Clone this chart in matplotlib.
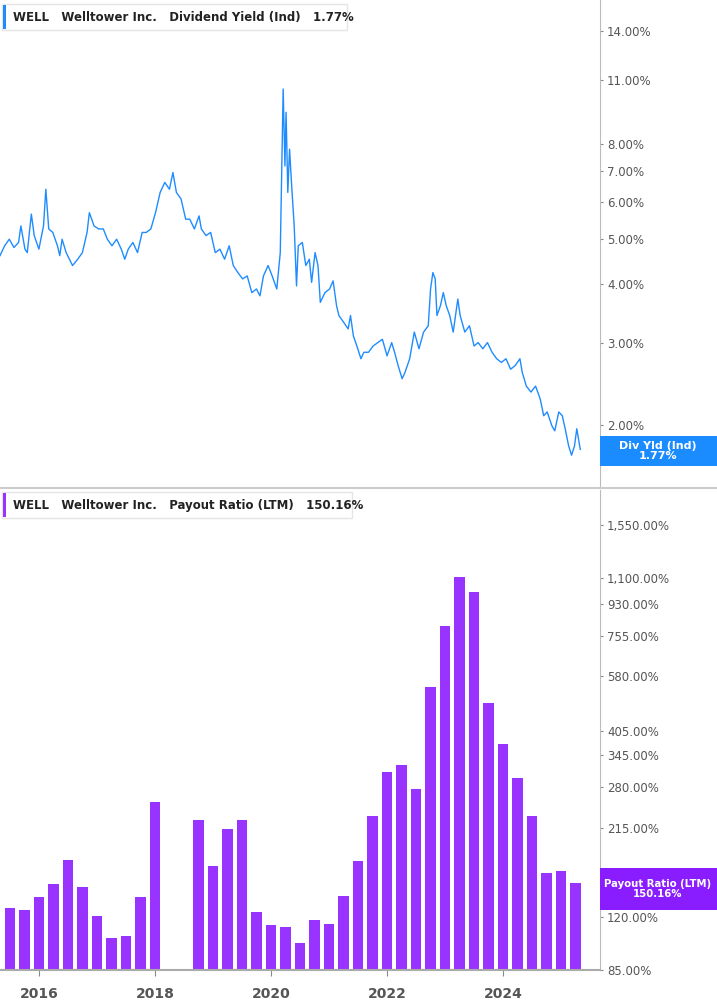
import matplotlib
matplotlib.use("Agg")
import matplotlib.pyplot as plt
from matplotlib.ticker import FixedLocator, FuncFormatter, NullLocator
from matplotlib.patches import Rectangle

yield_dates = [2015.33,2015.41,2015.49,2015.57,2015.65,2015.69,2015.76,2015.80,2015.87,2015.92,2016.00,2016.08,2016.12,2016.17,2016.24,2016.32,2016.36,2016.40,2016.47,2016.58,2016.67,2016.75,2016.83,2016.87,2016.95,2017.03,2017.11,2017.18,2017.26,2017.34,2017.42,2017.48,2017.54,2017.62,2017.70,2017.78,2017.85,2017.93,2018.01,2018.09,2018.17,2018.25,2018.31,2018.37,2018.45,2018.53,2018.60,2018.68,2018.76,2018.80,2018.88,2018.96,2019.04,2019.12,2019.20,2019.28,2019.35,2019.43,2019.51,2019.59,2019.67,2019.75,2019.81,2019.87,2019.95,2020.02,2020.10,2020.16,2020.21,2020.24,2020.26,2020.29,2020.32,2020.36,2020.40,2020.44,2020.47,2020.54,2020.60,2020.66,2020.70,2020.76,2020.81,2020.85,2020.93,2021.01,2021.07,2021.13,2021.17,2021.25,2021.33,2021.37,2021.42,2021.48,2021.55,2021.60,2021.68,2021.76,2021.84,2021.92,2022.00,2022.08,2022.13,2022.19,2022.26,2022.31,2022.39,2022.47,2022.55,2022.63,2022.71,2022.75,2022.79,2022.83,2022.86,2022.92,2022.97,2023.02,2023.08,2023.14,2023.22,2023.26,2023.34,2023.42,2023.50,2023.57,2023.65,2023.73,2023.81,2023.89,2023.97,2024.05,2024.13,2024.21,2024.29,2024.33,2024.40,2024.48,2024.56,2024.64,2024.70,2024.76,2024.84,2024.89,2024.96,2025.02,2025.07,2025.13,2025.18,2025.23,2025.27,2025.33]
yield_values = [4.61,4.84,5.00,4.80,4.92,5.34,4.76,4.68,5.66,5.09,4.76,5.34,6.40,5.26,5.17,4.84,4.61,5.00,4.68,4.39,4.53,4.68,5.17,5.70,5.34,5.26,5.26,5.00,4.84,5.00,4.76,4.53,4.76,4.92,4.68,5.17,5.17,5.26,5.70,6.30,6.62,6.40,6.95,6.30,6.10,5.52,5.52,5.26,5.61,5.26,5.09,5.17,4.68,4.76,4.53,4.84,4.39,4.24,4.11,4.17,3.84,3.91,3.78,4.17,4.39,4.17,3.91,4.68,10.5,7.18,9.36,6.30,7.8,6.40,5.34,3.97,4.84,4.92,4.39,4.53,4.04,4.68,4.39,3.66,3.84,3.91,4.07,3.60,3.43,3.32,3.21,3.43,3.10,2.95,2.77,2.86,2.86,2.95,3.00,3.05,2.81,3.00,2.86,2.68,2.51,2.59,2.77,3.16,2.91,3.16,3.26,3.91,4.24,4.11,3.43,3.60,3.84,3.60,3.43,3.16,3.72,3.43,3.16,3.26,2.95,3.00,2.91,3.00,2.86,2.77,2.72,2.77,2.63,2.68,2.77,2.59,2.42,2.35,2.42,2.27,2.09,2.13,1.99,1.94,2.13,2.09,1.96,1.80,1.72,1.80,1.96,1.77]

payout_dates = [2015.5,2015.75,2016.0,2016.25,2016.5,2016.75,2017.0,2017.25,2017.5,2017.75,2018.0,
                2018.75,2019.0,2019.25,2019.5,2019.75,2020.0,2020.25,2020.5,2020.75,2021.0,2021.25,2021.5,2021.75,
                2022.0,2022.25,2022.5,2022.75,2023.0,2023.25,2023.5,2023.75,2024.0,2024.25,2024.5,2024.75,2025.0,2025.25]
payout_values = [127.6,125.9,137,148.5,174.8,146,120.8,104.9,106.3,136.4,254,
                 226.7,168,213.8,226,124.3,113.9,112.2,101.1,117.5,114.7,138,173.6,232.7,
                 309,323.6,276.8,540,801.6,1105,1004,484.6,371,297,232.7,160.5,162.6,150.16]

yield_ticks = [2, 3, 4, 5, 6, 7, 8, 11, 14]
payout_ticks = [85, 120, 215, 280, 345, 405, 580, 755, 930, 1100, 1550]
year_ticks = [2016, 2018, 2020, 2022, 2024]

W, H = 717, 1005
fig = plt.figure(figsize=(W/100, H/100), dpi=100)
fig.patch.set_facecolor("white")
right = 600/W
ax1 = fig.add_axes([0, 1-487/H, right, 487/H])
ax2 = fig.add_axes([0, 1-970/H, right, (970-490)/H])

line_c = "#1e8cff"
bar_c = "#9933ff"
lab_c = "#555555"

fmt = FuncFormatter(lambda v, p: f"{v:,.2f}%")
for ax in (ax1, ax2):
    ax.set_yscale("log")
    ax.yaxis.tick_right()
    ax.yaxis.set_major_formatter(fmt)
    ax.yaxis.set_minor_locator(NullLocator())
    ax.tick_params(axis="y", which="major", length=2, color="#888888", labelcolor=lab_c, labelsize=8.5, pad=3)
    ax.set_xlim(2015.33, 2025.67)
    for s in ("top", "left", "bottom"):
        ax.spines[s].set_visible(False)
    ax.spines["right"].set_color("#bbbbbb")
    ax.set_facecolor("white")

ax1.plot(yield_dates, yield_values, color=line_c, lw=1.0)
ax1.set_ylim(1.47, 16.3)
ax1.yaxis.set_major_locator(FixedLocator(yield_ticks))
ax1.set_xticks([])

ax2.bar(payout_dates, payout_values, width=0.18, color=bar_c, bottom=0.1)
ax2.set_ylim(85, 1953)
ax2.yaxis.set_major_locator(FixedLocator(payout_ticks))
ax2.set_xticks(year_ticks)
ax2.set_xticklabels([str(y) for y in year_ticks], fontweight="bold", color=lab_c, fontsize=10)
ax2.tick_params(axis="x", length=4, color="#888888", pad=8)
ax2.spines["bottom"].set_visible(True)
ax2.spines["bottom"].set_color("#aaaaaa")
ax2.spines["bottom"].set_linewidth(1.5)

fig.add_artist(plt.Line2D([0, 1], [1-488/H, 1-488/H], color="#cccccc", lw=1.5))

def legend(y_px, text, color, w_px):
    fig.add_artist(Rectangle((2/W, 1-(y_px+13)/H), w_px/W, 26/H, facecolor="white",
                             edgecolor="#e5e5e5", lw=1))
    fig.add_artist(Rectangle((3/W, 1-(y_px+12)/H), 3/W, 24/H, facecolor=color, edgecolor="none"))
    fig.text(13/W, 1-y_px/H, text, fontsize=8.5, fontweight="bold", color="#222222", va="center", ha="left")

legend(17, "WELL   Welltower Inc.   Dividend Yield (Ind)   1.77%", line_c, 345)
legend(505, "WELL   Welltower Inc.   Payout Ratio (LTM)   150.16%", bar_c, 350)

def badge(y0, y1, text, color, fs):
    fig.add_artist(Rectangle((600/W, 1-y1/H), 117/W, (y1-y0)/H, facecolor=color, edgecolor="none"))
    fig.text(658/W, 1-(y0+y1)/2/H, text, fontsize=fs, fontweight="bold", color="white",
             ha="center", va="center", linespacing=1.0)

badge(436, 466, "Div Yld (Ind)\n1.77%", "#1a8cff", 8)
badge(868, 910, "Payout Ratio (LTM)\n150.16%", "#8a1dff", 7.3)

fig.savefig("out.png", dpi=100, facecolor="white")
